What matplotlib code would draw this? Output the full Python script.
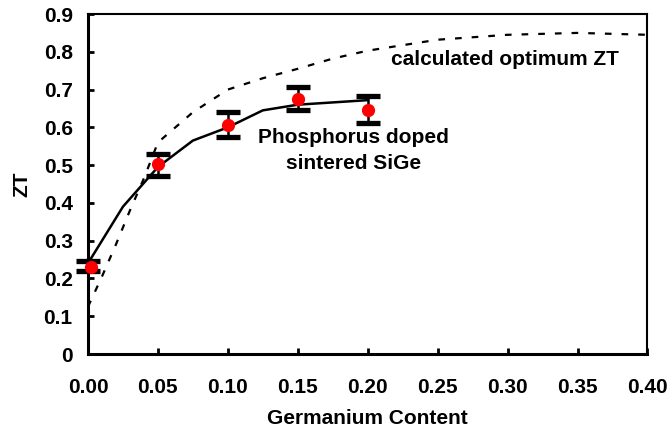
import matplotlib
matplotlib.use('Agg')
import matplotlib.pyplot as plt
from matplotlib.ticker import FormatStrFormatter, FuncFormatter

plt.rcParams['font.family'] = ['Liberation Sans', 'DejaVu Sans']
plt.rcParams['font.weight'] = 'bold'

# measured ZT of phosphorus doped sintered SiGe
ge_meas = [0.0, 0.05, 0.10, 0.15, 0.20]
zt_meas = [0.23, 0.502, 0.605, 0.676, 0.645]
err_lo = [0.010, 0.030, 0.030, 0.031, 0.033]
err_hi = [0.017, 0.027, 0.036, 0.031, 0.039]

# solid trend line
ge_fit = [0.0, 0.025, 0.05, 0.075, 0.10, 0.125, 0.15, 0.175, 0.20]
zt_fit = [0.24, 0.39, 0.495, 0.565, 0.60, 0.645, 0.66, 0.666, 0.672]

# calculated optimum ZT (dashed)
ge_calc = [0.0, 0.01, 0.02, 0.03, 0.04, 0.05, 0.075, 0.10, 0.125, 0.15,
           0.175, 0.20, 0.25, 0.30, 0.35, 0.40]
zt_calc = [0.125, 0.205, 0.29, 0.38, 0.465, 0.56, 0.64, 0.70, 0.73, 0.755,
           0.782, 0.803, 0.832, 0.845, 0.85, 0.845]

fs = 15

fig = plt.figure(figsize=(6.7, 4.34), dpi=100)
ax = fig.add_axes([0.1313, 0.1843, 0.8351, 0.7834])

ax.plot(ge_calc, zt_calc, color='black', lw=1.6, linestyle=(0, (3, 4.5)))
ax.plot(ge_fit, zt_fit, color='black', lw=1.8)
ax.errorbar(ge_meas, zt_meas, yerr=[err_lo, err_hi], fmt='none',
            ecolor='black', elinewidth=1.8, capsize=8.5, capthick=3.8,
            zorder=3, clip_on=False)
ax.plot([g + 0.002 if g == 0 else g for g in ge_meas], zt_meas, 'o',
        color='#ff0000', markersize=8.5, zorder=4, clip_on=False)

ax.text(0.298, 0.765, 'calculated optimum ZT', ha='center', va='baseline',
        fontsize=fs, fontweight='bold')
ax.text(0.190, 0.491, 'Phosphorus doped\nsintered SiGe', ha='center',
        va='baseline', fontsize=fs, fontweight='bold', linespacing=1.45)

ax.set_xlim(0, 0.4)
ax.set_ylim(0, 0.9)
ax.set_xticks([0.0, 0.05, 0.10, 0.15, 0.20, 0.25, 0.30, 0.35, 0.40])
ax.set_yticks([0.0, 0.1, 0.2, 0.3, 0.4, 0.5, 0.6, 0.7, 0.8, 0.9])
ax.xaxis.set_major_formatter(FormatStrFormatter('%.2f'))
ax.yaxis.set_major_formatter(FuncFormatter(lambda v, p: '0' if v == 0 else '%.1f' % v))
ax.tick_params(direction='in', length=4, width=2, labelsize=fs)
ax.tick_params(axis='x', pad=17)
ax.tick_params(axis='y', pad=11)

for side in ['left', 'bottom']:
    ax.spines[side].set_linewidth(2.2)
for side in ['top', 'right']:
    ax.spines[side].set_linewidth(1.5)

ax.set_xlabel('Germanium Content', fontsize=fs, fontweight='bold', labelpad=9)
ax.set_ylabel('ZT', fontsize=fs, fontweight='bold', labelpad=9)

fig.savefig('out.png', dpi=100)
